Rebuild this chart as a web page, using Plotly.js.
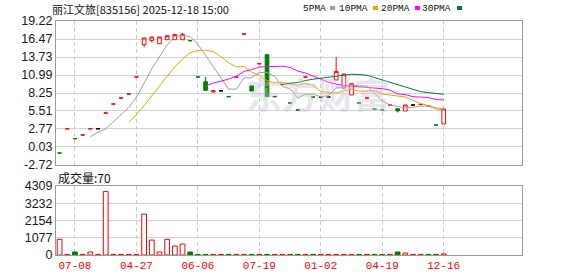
<!DOCTYPE html>
<html><head><meta charset="utf-8">
<script src="https://cdn.plot.ly/plotly-3.0.1.min.js"></script>
<style>html,body{margin:0;padding:0;background:#fff}#c{width:578px;height:276px}</style>
</head><body><div id="c"></div>
<script>
// ---- data (index = trading session) ----
const openP  = [-0.89,2.8,1.29,1.85,2.8,2.8,5.2,6.57,7.49,8.10,10.69,15.61,16.26,15.76,16.37,16.37,16.37,16.22,10.69,9.97,8.42,8.58,7.69,10.69,17.24,9.36,12.71,14.09,7.7,9.56,6.73,5.66,10.69,7.64,7.64,7.64,10.23,9.01,7.95,6.73,7.49,5.81,5.66,6.42,5.86,5.51,6.42,6.51,6.31,3.37,3.53];
const highP  = [-0.89,2.8,1.29,1.85,2.8,2.8,5.2,6.57,7.49,8.10,10.69,16.63,16.78,16.78,16.98,17.18,17.39,16.22,10.69,10.69,8.58,8.58,7.69,10.69,17.24,9.36,12.71,14.09,7.7,9.56,6.73,5.66,10.69,7.64,7.64,7.64,13.74,11.15,9.67,6.73,7.49,5.81,5.66,6.42,5.86,6.42,6.42,6.51,6.31,3.37,5.81];
const lowP   = [-0.89,2.8,1.29,1.85,2.8,2.8,5.2,6.57,7.49,8.10,10.69,15.2,15.96,15.76,16.37,16.37,16.37,16.22,10.69,8.65,8.3,8.58,7.69,10.69,17.24,8.55,12.71,7.7,7.7,9.56,6.73,5.66,10.69,7.64,7.64,7.64,10.23,9.01,7.95,6.73,7.49,5.81,5.66,6.42,5.29,5.51,6.42,6.51,6.31,3.37,3.53];
const closeP = [-0.89,2.8,1.29,1.85,2.8,2.8,5.2,6.57,7.49,8.10,10.69,16.63,16.78,16.78,16.98,17.18,17.18,16.22,10.69,8.65,8.58,8.58,7.69,10.69,17.24,8.55,12.71,7.7,7.7,9.56,6.73,5.66,10.69,7.64,7.64,7.64,11.54,11.15,9.67,6.73,7.49,5.81,5.66,6.42,5.51,6.42,6.42,6.51,6.31,3.37,5.81];
const volume = [977,40,187,40,187,40,3962,40,40,40,40,2550,933,187,977,560,684,187,40,40,40,40,40,40,40,40,40,40,40,40,40,40,40,40,40,40,40,40,40,40,40,40,40,40,187,125,40,40,40,40,70];
const firstSessionDir = -1; // first session closed below the (off-chart) previous close
const xTickIdx  = [2,10,18,26,34,42,50];
const xTickText = ['07-08','04-27','06-06','07-19','01-02','04-19','12-16'];
const yTickVals = [-2.72,0.03,2.77,5.51,8.25,10.99,13.73,16.47,19.22];
const yTickText = ['-2.72','0.03','2.77','5.51','8.25','10.99','13.73','16.47','19.22'];
const volTickVals = [0,1077,2154,3232,4309];
const volTickText = ['0','1077','2154','3232','4309'];
const maPeriods = [5,10,20,30];
const maNames   = ['5PMA','10PMA','20PMA','30PMA'];
const stockTitle = '丽江文旅[835156] 2025-12-18 15:00';
const volLabel = '成交量:';
const lastVolume = 70;

// ---- styling ----
const RED='#ff0000', GREEN='#008000', BLACK='#000000';
const maColors = ['#a0a0a0','#f5a300','#ff00ff','#007a3a'];
const W=578,H=276,ML=56,MR=56,MT=21,MB=21;
const PW=W-ML-MR, PH=H-MT-MB;
const px = x=>(x-ML)/PW, py = y=>(H-MB-y)/PH;

const n = closeP.length;
const idx = closeP.map((_,i)=>i);
const dir = closeP.map((c,i)=>{
  if(c>openP[i]) return 1;
  if(c<openP[i]) return -1;
  if(i===0) return firstSessionDir;
  return c>closeP[i-1]?1:(c<closeP[i-1]?-1:0);
});
const volDir = closeP.map((c,i)=> i===0 ? (c>=openP[i]?1:-1) : (dir[i]<0?-1:1));

const traces=[];
[[1,RED,'#ffffff'],[-1,GREEN,GREEN],[0,BLACK,BLACK]].forEach(([d,col,fill])=>{
  const sel = idx.filter(i=>dir[i]===d);
  if(!sel.length) return;
  traces.push({type:'candlestick',xaxis:'x',yaxis:'y',
    x:sel, open:sel.map(i=>openP[i]), high:sel.map(i=>highP[i]), low:sel.map(i=>lowP[i]), close:sel.map(i=>closeP[i]),
    increasing:{line:{color:col,width:1},fillcolor:fill},
    decreasing:{line:{color:col,width:1},fillcolor:fill},
    whiskerwidth:0, hoverinfo:'skip', showlegend:false});
});
maPeriods.forEach((p,k)=>{
  const y = closeP.map((_,i)=> i<p-1 ? null : closeP.slice(i-p+1,i+1).reduce((a,b)=>a+b,0)/p);
  traces.push({type:'scatter',mode:'lines',x:idx,y:y,xaxis:'x',yaxis:'y',
    line:{color:maColors[k],width:1},hoverinfo:'skip',showlegend:false});
});
[[1,RED,'#ffffff'],[-1,GREEN,GREEN]].forEach(([d,col,fill])=>{
  const sel = idx.filter(i=>volDir[i]===d);
  traces.push({type:'bar',xaxis:'x2',yaxis:'y2',x:sel,y:sel.map(i=>volume[i]),width:0.62,
    marker:{color:fill,line:{color:col,width:1}},hoverinfo:'skip',showlegend:false});
});

const gridX = {showgrid:true,gridcolor:'#cccccc',griddash:'4px,3px',gridwidth:1,
  tickmode:'array',tickvals:xTickIdx,ticktext:xTickText,ticks:'',
  showline:true,mirror:true,linecolor:'#9a9a9a',linewidth:1,zeroline:false,
  range:[-0.47,60.19],fixedrange:true};
const layout = {
  width:W,height:H,margin:{l:ML,r:MR,t:MT,b:MB,pad:0},
  paper_bgcolor:'#ffffff',plot_bgcolor:'#ffffff',showlegend:false,
  barmode:'overlay',boxgap:0.32,
  xaxis:Object.assign({},gridX,{anchor:'y',showticklabels:false,rangeslider:{visible:false}}),
  xaxis2:Object.assign({},gridX,{anchor:'y2',matches:'x',showticklabels:true,
    tickfont:{family:'Liberation Mono, monospace',size:11,color:RED}}),
  yaxis:{domain:[py(165),1],range:[-2.72,19.22],tickmode:'array',tickvals:yTickVals,ticktext:yTickText,
    showgrid:true,gridcolor:'#d2d2d2',gridwidth:1,zeroline:false,ticks:'',
    showline:true,mirror:true,linecolor:'#9a9a9a',linewidth:1,
    tickfont:{family:'Liberation Sans, Arial, sans-serif',size:12.5,color:'#1a1a1a'},fixedrange:true},
  yaxis2:{domain:[0,py(186)],range:[0,4309],tickmode:'array',tickvals:volTickVals,ticktext:volTickText,
    showgrid:true,gridcolor:'#d2d2d2',gridwidth:1,zeroline:false,ticks:'',
    showline:true,mirror:true,linecolor:'#9a9a9a',linewidth:1,
    tickfont:{family:'Liberation Sans, Arial, sans-serif',size:12.5,color:'#1a1a1a'},fixedrange:true},
  annotations:[
    {text:'东方财富',xref:'paper',yref:'paper',x:px(318),y:py(93),xanchor:'center',yanchor:'middle',showarrow:false,
     font:{family:'Noto Sans CJK SC',size:36,color:'rgba(200,200,212,0.45)',weight:700}},
    {text:stockTitle,xref:'paper',yref:'paper',x:px(50),y:py(9),xanchor:'left',yanchor:'middle',showarrow:false,
     font:{family:'Noto Sans CJK SC',size:11,color:'#111'}},
    {text:volLabel+lastVolume,xref:'paper',yref:'paper',x:px(56),y:py(177),xanchor:'left',yanchor:'middle',showarrow:false,
     font:{family:'Noto Sans CJK SC',size:12,color:'#111'}}
  ],
  shapes:[]
};
const legRight=[328,370,412,453], legSq=[330,373,415,457];
maNames.forEach((nm,k)=>{
  layout.annotations.push({text:nm,xref:'paper',yref:'paper',x:px(legRight[k]),y:py(9),xanchor:'right',yanchor:'middle',
    showarrow:false,font:{family:'Liberation Mono, monospace',size:9.5,color:'#111'}});
  layout.shapes.push({type:'rect',xref:'paper',yref:'paper',x0:px(legSq[k]),x1:px(legSq[k]+5),y0:py(10),y1:py(6),
    fillcolor:maColors[k],line:{width:0}});
});
Plotly.newPlot('c',traces,layout,{staticPlot:true,displayModeBar:false});
</script></body></html>
